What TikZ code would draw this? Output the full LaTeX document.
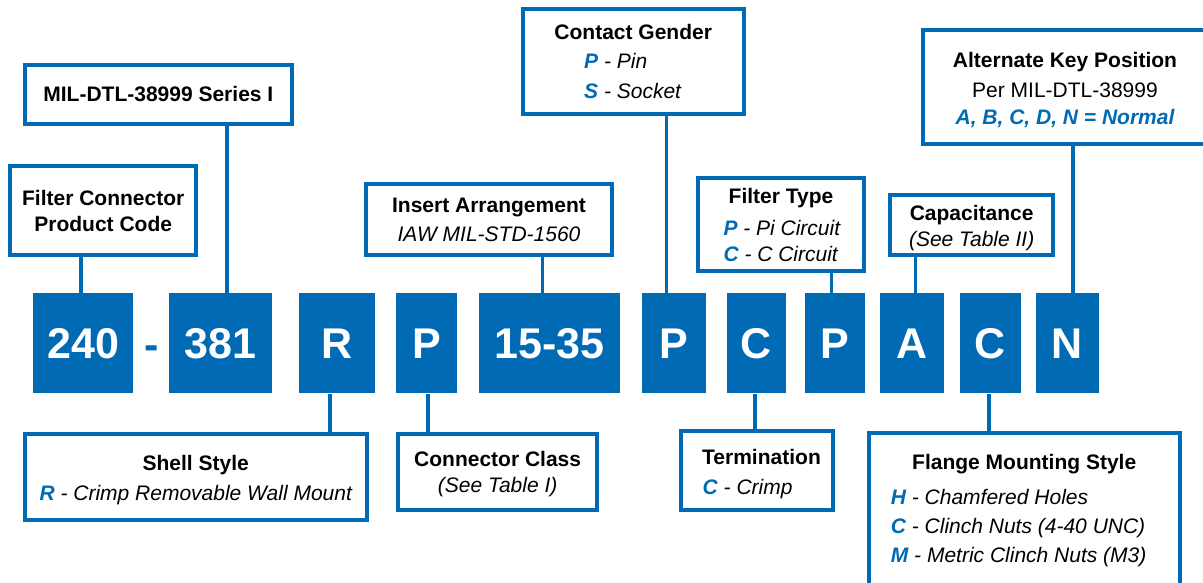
\documentclass[tikz,border=0pt]{standalone}
\usepackage{fontspec}
\setmainfont{Liberation Sans}
\definecolor{cblue}{RGB}{0,106,181}
\newcommand\lblfont{\fontsize{21}{25}\selectfont}
\newcommand\bigfont{\fontsize{43}{43}\selectfont\bfseries}
\newcommand\key[1]{\textcolor{cblue}{\bfseries\itshape #1}}
\begin{document}
\begin{tikzpicture}[x=1pt,y=-1pt,
  codebox/.style={fill=cblue,draw=none,text=white,font=\bigfont,inner sep=0pt,
    minimum height=100pt,text height=31pt,text depth=0pt,anchor=center},
  lblbox/.style={draw=cblue,line width=4pt,fill=white,inner sep=0pt,rectangle},
  conn/.style={draw=cblue,line width=3.6pt},
  ttl/.style={font=\lblfont\bfseries,inner sep=0pt,anchor=base},
  txt/.style={font=\lblfont,inner sep=0pt,anchor=base},
  txtl/.style={font=\lblfont,inner sep=0pt,anchor=base west}]
\useasboundingbox (0,0) rectangle (1203,583);
\clip (0,0) rectangle (1203,583);
\fill[white] (0,0) rectangle (1203,583);

% code boxes
\node[codebox,minimum width=100pt] (b240) at (83.3,343.3) {240};
\node[font=\bigfont,text=cblue,inner sep=0pt,anchor=base] (dash) at (152,359) {-};
\node[codebox,minimum width=103pt] (b381) at (220.8,343.3) {381};
\node[codebox,minimum width=76pt] (bR) at (337,343.3) {R};
\node[codebox,minimum width=61pt] (bP1) at (426.5,343.3) {P};
\node[codebox,minimum width=141pt] (b1535) at (549.5,343.3) {15-35};
\node[codebox,minimum width=64.3pt] (bP2) at (673.65,343.3) {P};
\node[codebox,minimum width=59.5pt] (bC1) at (756.25,343.3) {C};
\node[codebox,minimum width=60pt] (bP3) at (834.6,343.3) {P};
\node[codebox,minimum width=64pt] (bA) at (912,343.3) {A};
\node[codebox,minimum width=61pt] (bC2) at (990.5,343.3) {C};
\node[codebox,minimum width=63pt] (bN) at (1067.5,343.3) {N};

% label boxes
\node[lblbox,minimum width=185.7pt,minimum height=89pt] (lFC) at (103.15,210.8) {};
\node[lblbox,minimum width=267.3pt,minimum height=59pt] (lMIL) at (158.35,94.2) {};
\node[lblbox,minimum width=246pt,minimum height=71.6pt] (lIns) at (489,219.5) {};
\node[lblbox,minimum width=221pt,minimum height=105.3pt] (lCG) at (633.2,61.35) {};
\node[lblbox,minimum width=166pt,minimum height=92.7pt] (lFT) at (781,224.35) {};
\node[lblbox,minimum width=162.7pt,minimum height=60pt] (lCap) at (971.65,225.3) {};
\node[lblbox,minimum width=292pt,minimum height=113.4pt] (lAK) at (1069,87) {};
\node[lblbox,minimum width=342.5pt,minimum height=86pt] (lSS) at (195.75,476.7) {};
\node[lblbox,minimum width=199.3pt,minimum height=76.6pt] (lCC) at (497.65,472) {};
\node[lblbox,minimum width=152pt,minimum height=79pt] (lTerm) at (757,470.8) {};
\node[lblbox,minimum width=311pt,minimum height=162.3pt] (lFl) at (1024.2,513.85) {};

% connectors
\draw[conn] (b240.north -| 81,0) -- (lFC.south -| 81,0);
\draw[conn] (b381.north -| 227,0) -- (lMIL.south -| 227,0);
\draw[conn] (b1535.north -| 542.3,0) -- (lIns.south -| 542.3,0);
\draw[conn] (bP2.north -| 666.5,0) -- (lCG.south -| 666.5,0);
\draw[conn] (bP3.north -| 831.6,0) -- (lFT.south -| 831.6,0);
\draw[conn] (bA.north -| 915.5,0) -- (lCap.south -| 915.5,0);
\draw[conn] (bN.north -| 1073,0) -- (lAK.south -| 1073,0);
\draw[conn] (bR.south -| 330,0) -- (lSS.north -| 330,0);
\draw[conn] (bP1.south -| 428,0) -- (lCC.north -| 428,0);
\draw[conn] (bC1.south -| 755,0) -- (lTerm.north -| 755,0);
\draw[conn] (bC2.south -| 989,0) -- (lFl.north -| 989,0);

% texts
\node[ttl] (tFC1) at (103.2,205.7) {Filter Connector};
\node[ttl] (tFC2) at (103.2,231) {Product Code};
\node[ttl] (tMIL) at (158.35,101.7) {MIL-DTL-38999 Series I};
\node[ttl] (tIns1) at (489,212.7) {Insert Arrangement};
\node[txt] (tIns2) at (489,241.7) {\itshape IAW MIL-STD-1560};
\node[ttl] (tCG1) at (633.2,40) {Contact Gender};
\node[txtl] (tCG2) at (584,69) {\key{P} \itshape - Pin};
\node[txtl] (tCG3) at (584,98.5) {\key{S} \itshape - Socket};
\node[ttl] (tFT1) at (781,203.3) {Filter Type};
\node[txtl] (tFT2) at (723.3,235) {\key{P} \itshape - Pi Circuit};
\node[txtl] (tFT3) at (723.3,261) {\key{C} \itshape - C Circuit};
\node[ttl] (tCap1) at (971.65,221) {Capacitance};
\node[txt] (tCap2) at (971.65,246) {\itshape (See Table II)};
\node[ttl] (tAK1) at (1065,67.7) {Alternate Key Position};
\node[txt] (tAK2) at (1065,97.7) {Per MIL-DTL-38999};
\node[txt] (tAK3) at (1065,124.3) {\key{A, B, C, D, N = Normal}};
\node[ttl] (tSS1) at (195.75,470) {Shell Style};
\node[txt] (tSS2) at (195.75,500) {\key{R} \itshape - Crimp Removable Wall Mount};
\node[ttl] (tCC1) at (497.65,466.7) {Connector Class};
\node[txt] (tCC2) at (497.65,492.3) {\itshape (See Table I)};
\node[ttl,anchor=base west] (tT1) at (702,464.3) {Termination};
\node[txtl] (tT2) at (702.5,494) {\key{C} \itshape - Crimp};
\node[ttl] (tFl1) at (1024.2,469.3) {Flange Mounting Style};
\node[txtl] (tFl2) at (890.7,504) {\key{H} \itshape - Chamfered Holes};
\node[txtl] (tFl3) at (890.7,533.3) {\key{C} \itshape - Clinch Nuts (4-40 UNC)};
\node[txtl] (tFl4) at (890.7,562.7) {\key{M} \itshape - Metric Clinch Nuts (M3)};
\end{tikzpicture}
\end{document}
